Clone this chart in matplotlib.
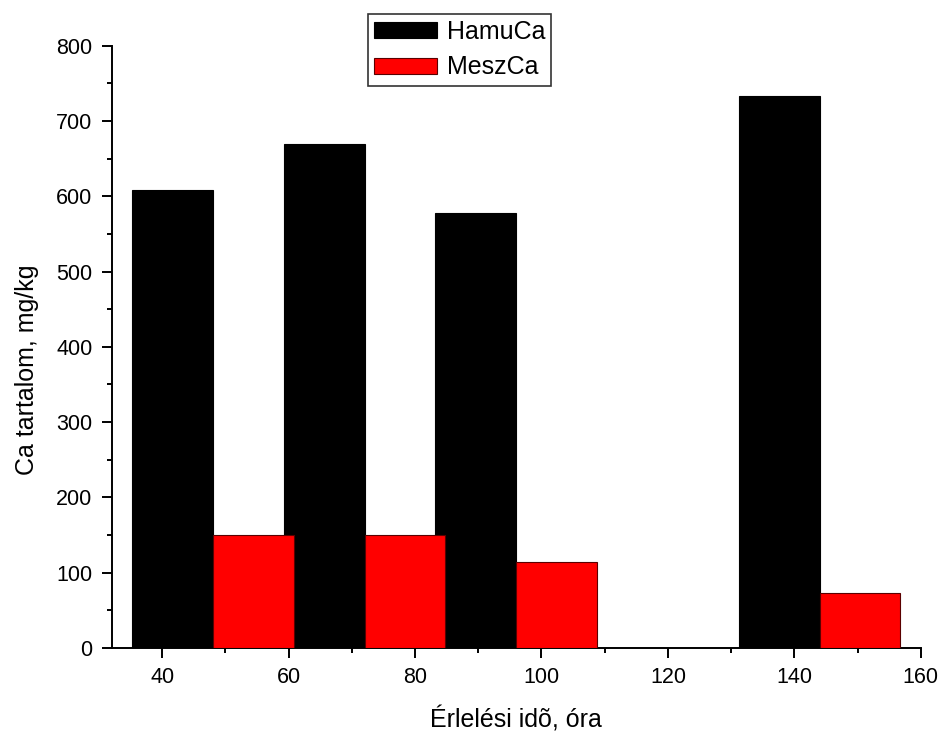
import numpy as np
import matplotlib
matplotlib.use("Agg")
import matplotlib.pyplot as plt
from matplotlib.ticker import MultipleLocator

plt.rcParams["font.family"] = ["Liberation Sans", "DejaVu Sans"]

# ripening time (hours) and Ca content (mg/kg)
hours = [48, 72, 96, 144]
hamu_ca = [609, 669, 578, 733]
mesz_ca = [150, 150, 114, 73]
series_names = ["HamuCa", "MeszCa"]
x_ticks = [40, 60, 80, 100, 120, 140, 160]
y_ticks = [0, 100, 200, 300, 400, 500, 600, 700, 800]

BAR_W = 12.8

fig = plt.figure(figsize=(9.42, 7.34), dpi=100)
ax = fig.add_axes([0.1186, 0.1172, 0.8588, 0.8205])

x = np.array(hours, dtype=float)
ax.bar(x - BAR_W / 2, hamu_ca, width=BAR_W, color="black", edgecolor="black",
       linewidth=0.8, label=series_names[0], zorder=2)
ax.bar(x + BAR_W / 2, mesz_ca, width=BAR_W, color="#ff0000", edgecolor="#5a0000",
       linewidth=0.8, label=series_names[1], zorder=3)

ax.set_xlim(32, 160)
ax.set_ylim(0, 800)
ax.set_xticks(x_ticks)
ax.set_yticks(y_ticks)
ax.xaxis.set_minor_locator(MultipleLocator(10))
ax.yaxis.set_minor_locator(MultipleLocator(50))

for side in ["top", "right"]:
    ax.spines[side].set_visible(False)
for side in ["left", "bottom"]:
    ax.spines[side].set_linewidth(1.4)

ax.tick_params(which="major", direction="out", length=7.5, width=1.4,
               labelsize=15.5, pad=6.5)
ax.tick_params(which="minor", direction="out", length=3.8, width=1.4)

ax.set_xlabel("Érlelési idõ, óra", fontsize=18, labelpad=13)
ax.set_ylabel("Ca tartalom, mg/kg", fontsize=18, labelpad=12)
ax.yaxis.label.set_y(0.462)

leg = fig.legend(loc="upper center", bbox_to_anchor=(0.488, 0.981), fontsize=18,
                 frameon=True, fancybox=False, edgecolor="black",
                 handlelength=2.5, handleheight=0.6, handletextpad=0.4,
                 borderpad=0.25, labelspacing=0.45, borderaxespad=0)
leg.get_frame().set_linewidth(1.2)

fig.savefig("out.png", dpi=100)
